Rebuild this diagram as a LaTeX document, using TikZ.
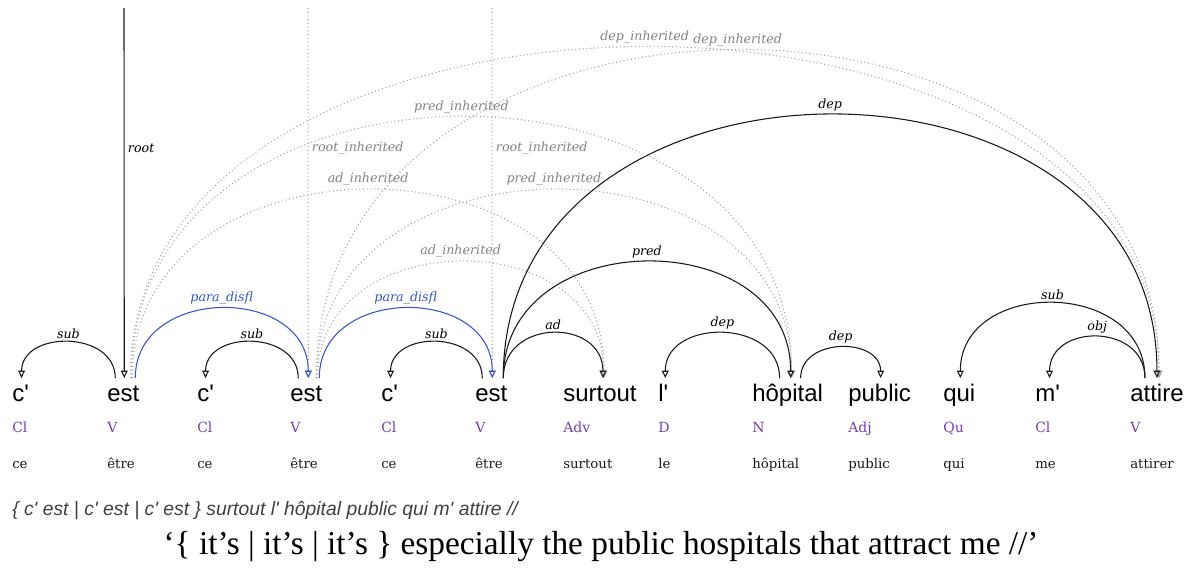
\documentclass[tikz,border=0pt]{standalone}
\usepackage{fontspec}
\setmainfont{DejaVu Serif}
\newfontfamily\wordfont{Liberation Sans}[Ligatures=TeXOff]
\newfontfamily\glossfont{Liberation Serif}
\usetikzlibrary{arrows.meta,calc}

\definecolor{disflblue}{RGB}{55,85,205}
\definecolor{inhgray}{RGB}{165,165,165}
\definecolor{inhtext}{RGB}{130,130,130}
\definecolor{catpurple}{RGB}{115,65,170}
\definecolor{lemmagray}{RGB}{25,25,25}

\tikzset{
  word/.style = {font=\wordfont\fontsize{18}{18}\selectfont, inner sep=0pt,
    anchor=base west, text height=17pt, text depth=4pt},
  cat/.style = {font=\fontsize{10.5}{10.5}\selectfont, text=catpurple,
    inner sep=0pt, anchor=base west},
  lemma/.style = {font=\fontsize{10}{10}\selectfont, text=lemmagray,
    inner sep=0pt, anchor=base west},
  dep/.style = {draw=black!90, line width=0.8pt,
    -{Triangle[open,length=5.5pt,width=5pt]}},
  disfl/.style = {dep, draw=disflblue},
  inherited/.style = {dep, draw=inhgray, dotted},
  deplabel/.style = {font=\itshape\fontsize{9.5}{9.5}\selectfont,
    inner sep=2.5pt, anchor=south},
  disfllabel/.style = {deplabel, text=disflblue},
  inhlabel/.style = {deplabel, text=inhtext}
}

\begin{document}
\begin{tikzpicture}[x=0.75pt, y=-0.75pt]
  \useasboundingbox (0,0) rectangle (1195,572);

  % Words
  \foreach \x/\n/\w/\c/\l in {12/c1/{c'}/Cl/ce, 107/est1/est/V/être,
      197/c2/{c'}/Cl/ce, 290/est2/est/V/être, 381/c3/{c'}/Cl/ce,
      475/est3/est/V/être, 563/surtout/surtout/Adv/surtout, 658/l/{l'}/D/le,
      752/hopital/hôpital/N/hôpital, 848/public/public/Adj/public,
      943/qui/qui/Qu/qui, 1035/m/{m'}/Cl/me, 1130/attire/attire/V/attirer}{
    \node[word] (\n) at (\x,401) {\w};
    \node[cat] (\n-cat) at (\x,432) {\c};
    \node[lemma] (\n-lem) at (\x,468) {\l};
  }

  % Sentence and gloss
  \node[anchor=base west, inner sep=0pt, text=black!75,
    font=\wordfont\itshape\fontsize{14.5}{14.5}\selectfont] (sent) at (12,515)
    {\{ c' est | c' est | c' est \} surtout l' hôpital public qui m' attire //};
  \node[anchor=base, inner sep=0pt, font=\glossfont\fontsize{25}{25}\selectfont]
    (gloss) at (601,554)
    {‘\{ it’s | it’s | it’s \} especially the public hospitals that attract me //’};

  % Root edges
  \coordinate (top1) at (124,8);
  \coordinate (top2) at (308,8);
  \coordinate (top3) at (492,8);
  \draw[dep] (top1) -- ($(est1.north)+(1,0)$)
    node[deplabel, pos=0.38, anchor=west] {root};
  \draw[inherited] (top2) -- ($(est2.north)+(2,0)$)
    node[inhlabel, pos=0.38, anchor=west] {root\_inherited};
  \draw[inherited] (top3) -- ($(est3.north)+(1,0)$)
    node[inhlabel, pos=0.38, anchor=west] {root\_inherited};

  % Inherited edges
  \draw[inherited] ($(est1.north)+(7,0)$) .. controls +(0,-441) and +(0,-441) ..
    ($(attire.north)+(2,0)$) node[inhlabel, midway] {dep\_inherited};
  \draw[inherited] ($(est2.north)+(10,0)$) .. controls +(0,-437) and +(0,-437) ..
    ($(attire.north)+(2,0)$) node[inhlabel, midway] {dep\_inherited};
  \draw[inherited] ($(est1.north)+(8,0)$) .. controls +(0,-348) and +(0,-348) ..
    ($(hopital.north)+(4,0)$) node[inhlabel, midway] {pred\_inherited};
  \draw[inherited] ($(est2.north)+(10,0)$) .. controls +(0,-251) and +(0,-251) ..
    ($(hopital.north)+(4,0)$) node[inhlabel, midway] {pred\_inherited};
  \draw[inherited] ($(est1.north)+(9,0)$) .. controls +(0,-251) and +(0,-251) ..
    ($(surtout.north)+(4,0)$) node[inhlabel, midway] {ad\_inherited};
  \draw[inherited] ($(est2.north)+(11,0)$) .. controls +(0,-155) and +(0,-155) ..
    ($(surtout.north)+(4,0)$) node[inhlabel, midway] {ad\_inherited};

  % Disfluency edges
  \draw[disfl] ($(est1.north)+(12,0)$) .. controls +(0,-93) and +(0,-93) ..
    ($(est2.north)+(2,0)$) node[disfllabel, midway] {para\_disfl};
  \draw[disfl] ($(est2.north)+(13,0)$) .. controls +(0,-93) and +(0,-93) ..
    ($(est3.north)+(1,0)$) node[disfllabel, midway] {para\_disfl};

  % Edges
  \draw[dep] ($(est1.north)+(-8,0)$) .. controls +(0,-48) and +(0,-48) ..
    ($(c1.north)+(1,0)$) node[deplabel, midway] {sub};
  \draw[dep] ($(est2.north)+(-8,0)$) .. controls +(0,-48) and +(0,-48) ..
    (c2.north) node[deplabel, midway] {sub};
  \draw[dep] ($(est3.north)+(-9,0)$) .. controls +(0,-48) and +(0,-48) ..
    ($(c3.north)+(1,0)$) node[deplabel, midway] {sub};
  \draw[dep] ($(est3.north)+(12,0)$) .. controls +(0,-60) and +(0,-60) ..
    ($(surtout.north)+(3,0)$) node[deplabel, midway] {ad};
  \draw[dep] ($(est3.north)+(12,0)$) .. controls +(0,-155) and +(0,-155) ..
    ($(hopital.north)+(3,0)$) node[deplabel, midway] {pred};
  \draw[dep] ($(est3.north)+(12,0)$) .. controls +(0,-351) and +(0,-351) ..
    (attire.north) node[deplabel, midway] {dep};
  \draw[dep] ($(hopital.north)+(-8,0)$) .. controls +(0,-60) and +(0,-60) ..
    ($(l.north)+(2,0)$) node[deplabel, midway] {dep};
  \draw[dep] ($(hopital.north)+(13,0)$) .. controls +(0,-41) and +(0,-41) ..
    ($(public.north)+(1,0)$) node[deplabel, midway] {dep};
  \draw[dep] ($(attire.north)+(-12,0)$) .. controls +(0,-100) and +(0,-100) ..
    ($(qui.north)+(1,0)$) node[deplabel, midway] {sub};
  \draw[dep] ($(attire.north)+(-12,0)$) .. controls +(0,-55) and +(0,-55) ..
    ($(m.north)+(2,0)$) node[deplabel, midway] {obj};
\end{tikzpicture}
\end{document}
